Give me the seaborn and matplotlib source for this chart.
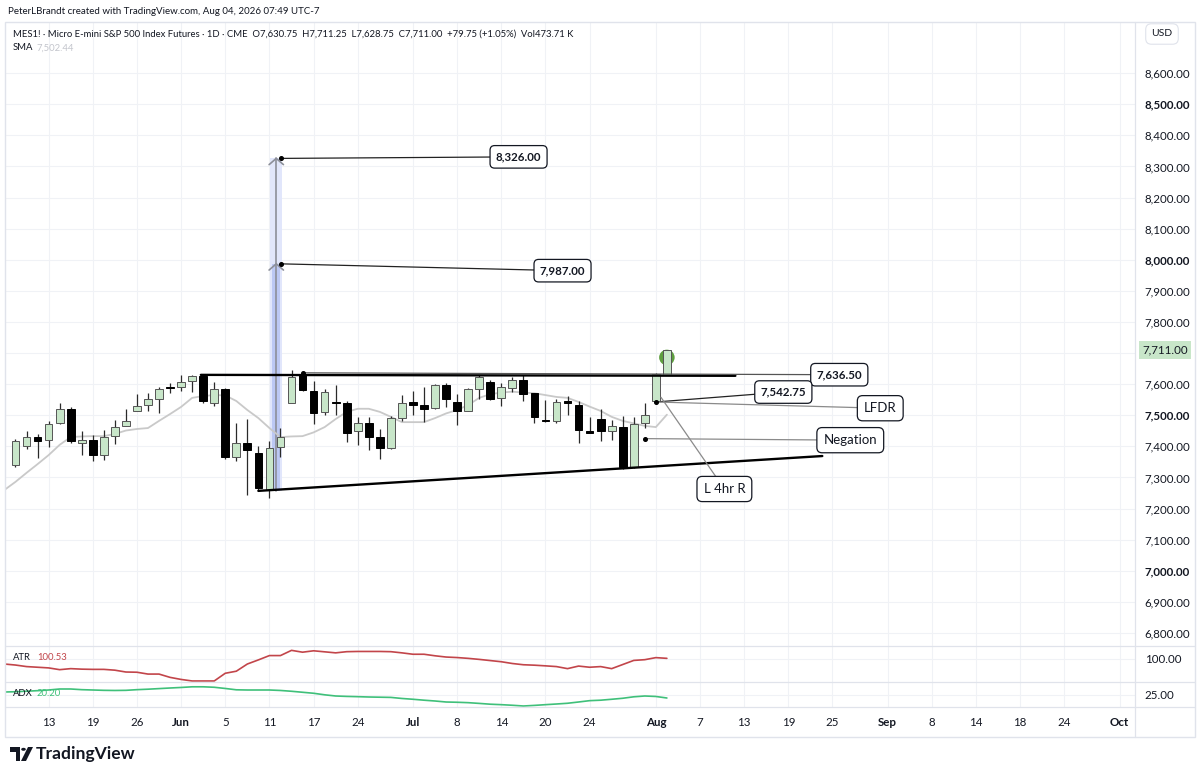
import numpy as np
import pandas as pd
import matplotlib
matplotlib.use("Agg")
import matplotlib.pyplot as plt
import matplotlib.transforms as mtrans
import seaborn as sns
from matplotlib.patches import Rectangle, Polygon, Circle
from matplotlib.lines import Line2D

sns.set_theme(style="white")
plt.rcParams['font.family'] = ['Lato', 'DejaVu Sans']

# ── DATA (MES1! daily) ───────────────────────────────────────
opens  = [7339, 7401, 7431, 7420, 7476, 7519, 7410, 7421, 7373, 7433,
          7466, 7515, 7532, 7553, 7589, 7592, 7609, 7626, 7541, 7586,
          7365, 7410, 7380, 7260, 7397, 7541, 7628, 7579, 7511, 7542,
          7540, 7449, 7476, 7429, 7395, 7491, 7543, 7532, 7523, 7596,
          7543, 7515, 7586, 7607, 7556, 7588, 7613, 7571, 7484, 7481,
          7545, 7534, 7450, 7487, 7450, 7463, 7333, 7476, 7547, 7630.75]
highs  = [7425, 7450, 7440, 7482, 7539, 7528, 7450, 7436, 7453, 7485,
          7521, 7568, 7571, 7592, 7603, 7629, 7630, 7631, 7607, 7588,
          7474, 7487, 7401, 7416, 7459, 7646, 7636.5, 7611, 7586, 7598,
          7546, 7495, 7494, 7455, 7498, 7566, 7577, 7592, 7601, 7603,
          7568, 7588, 7629, 7613, 7605, 7622, 7629, 7572, 7549, 7551,
          7562, 7547, 7494, 7521, 7485, 7498, 7495, 7539, 7635, 7711.25]
lows   = [7335, 7391, 7362, 7397, 7472, 7412, 7372, 7354, 7356, 7408,
          7466, 7515, 7515, 7507, 7571, 7579, 7575, 7540, 7530, 7358,
          7354, 7245, 7257, 7234, 7367, 7540, 7579, 7472, 7502, 7502,
          7414, 7404, 7388, 7358, 7392, 7481, 7502, 7478, 7520, 7528,
          7468, 7513, 7553, 7549, 7530, 7575, 7547, 7474, 7478, 7474,
          7501, 7411, 7442, 7418, 7421, 7328, 7330, 7459, 7542.75, 7628.75]
closes = [7418, 7431, 7418, 7472, 7519, 7416, 7421, 7371, 7431, 7463,
          7481, 7530, 7551, 7585, 7587, 7607, 7626, 7545, 7586, 7365,
          7410, 7388, 7266, 7395, 7431, 7622, 7581, 7508, 7575, 7540,
          7444, 7474, 7431, 7395, 7491, 7540, 7532, 7521, 7596, 7553,
          7513, 7584, 7624, 7551, 7590, 7613, 7568, 7494, 7482, 7543,
          7539, 7453, 7442, 7450, 7466, 7333, 7472, 7500, 7631.25, 7711]

# indicator series start one bar before the first visible candle
sma = [7260, 7286, 7315, 7343, 7372, 7405, 7430, 7432, 7433, 7433, 7440,
       7451, 7456, 7459, 7482, 7504, 7527, 7556, 7562, 7565, 7564, 7546,
       7517, 7491, 7459, 7430, 7432, 7433, 7445, 7462, 7488, 7511, 7521,
       7521, 7511, 7495, 7478, 7478, 7478, 7491, 7506, 7517, 7533, 7556,
       7568, 7573, 7576, 7573, 7571, 7565, 7559, 7556, 7543, 7528, 7514,
       7495, 7482, 7474, 7466, 7462, 7502]
atr = [92.8, 91.4, 89.3, 88.4, 87.5, 85.1, 86.5, 85.8, 85.5, 85.5, 84.4,
       81.9, 81.6, 79.1, 79.1, 74.6, 71.8, 69.7, 69.7, 69.7, 80.2, 83.0,
       92.8, 98.4, 104.3, 104.3, 111.4, 108.9, 110.8, 109.4, 108.0, 109.6,
       109.9, 109.9, 109.9, 109.6, 108.0, 106.1, 106.1, 104.0, 102.3, 101.6,
       100.5, 99.1, 97.5, 95.9, 93.5, 91.8, 91.2, 90.3, 89.3, 86.5, 90.0,
       88.4, 89.3, 86.5, 92.1, 97.7, 98.7, 101.5, 100.53]
adx = [29.2, 29.6, 30.4, 31.2, 32.2, 33.7, 33.7, 32.7, 32.2, 31.7, 31.5,
       31.7, 32.7, 33.4, 34.3, 35.2, 36.0, 37.0, 37.0, 36.3, 34.5, 32.5,
       32.2, 32.2, 32.2, 31.5, 30.3, 28.8, 27.3, 25.0, 23.2, 22.6, 22.2,
       21.7, 21.4, 21.1, 19.5, 18.3, 16.9, 15.7, 14.2, 13.8, 13.2, 12.1,
       10.9, 10.2, 9.3, 8.2, 9.1, 10.2, 11.2, 12.3, 14.2, 16.2, 16.9,
       18.3, 19.8, 22.0, 23.2, 22.5, 20.2]

# time axis (bar index of each label, first bar = May 8)
tick_idx = [3, 7, 11, 15, 19, 23, 27, 31, 36, 40, 44, 48, 52, 58,
            62, 66, 70, 74, 79, 83, 87, 91, 95, 100]
tick_lbl = ['13', '19', '26', 'Jun', '5', '11', '17', '24', 'Jul', '8',
            '14', '20', '24', 'Aug', '7', '13', '19', '25', 'Sep', '8',
            '14', '18', '24', 'Oct']
months = {'Jun', 'Jul', 'Aug', 'Sep', 'Oct'}
price_ticks = list(range(6800, 8601, 100))

# drawing levels
target_hi, target_lo = 8326.00, 7987.00
neck_level = 7636.50
lfdr_level = 7542.75
negation_level = 7425
circle_level = 7686

# ── FIGURE ───────────────────────────────────────────────────
W, H = 1200, 778
def fx(px): return px / W
def fy(py): return 1 - py / H
def bx(px): return (px - 14.5) / 11.05      # pixel -> bar index

TXT = '#131722'
GRID = '#f0f2f6'
BORDER = '#e0e3eb'

fig = plt.figure(figsize=(12, 7.78), dpi=100)
fig.patch.set_facecolor('white')
L, R = 6, 1135
ax = fig.add_axes([fx(L), fy(645), fx(R - L), (645 - 22) / H])
ax_atr = fig.add_axes([fx(L), fy(682), fx(R - L), (682 - 645) / H], sharex=ax)
ax_adx = fig.add_axes([fx(L), fy(707), fx(R - L), (707 - 682) / H], sharex=ax)

for a in (ax, ax_atr, ax_adx):
    a.set_facecolor('white')
    for s in a.spines.values():
        s.set_visible(False)
    a.grid(True, color=GRID, lw=0.8)
    a.set_axisbelow(True)
    a.yaxis.tick_right()
    a.tick_params(axis='y', length=0, pad=7, labelsize=8.3, labelcolor=TXT)
    a.tick_params(axis='x', length=0)

ax.set_xlim(-0.86, 101.4)
ax.set_ylim(6761.4, 8764.6)

# ── projection bar (behind the candles) ──
px0, px1 = bx(269.5), bx(281.5)
pxc = bx(275.5)
base = lows[22]
ax.add_patch(Rectangle((px0, base), px1 - px0, target_hi - base,
                       fc='#e1e6fb', ec='none', zorder=1.2))
ax.add_patch(Rectangle((bx(271.5), base), bx(279.5) - bx(271.5),
                       target_lo - base, fc='#bcc8f4', ec='none', zorder=1.3))
ax.plot([pxc, pxc], [base, target_hi], color='#8c8f99', lw=1.2, zorder=1.4)
for lvl in (target_lo, target_hi):
    ax.plot([pxc - 0.65, pxc, pxc + 0.65], [lvl - 20, lvl, lvl - 20],
            color='#8c8f99', lw=1.2, zorder=1.4)

# ── candles ──
n = len(closes)
xs = np.arange(n)
o, c = np.array(opens), np.array(closes)
up = c >= o
bottoms = np.minimum(o, c)
heights = np.maximum(np.abs(c - o), 2.5)
fills = np.where(up, '#c8e6c9', '#000000')
edges = np.where(up, '#555555', '#000000')

# highlight circle on the breakout bar (sits behind the body)
ax.scatter([n - 1], [circle_level], s=125, color='#5e9e3f', zorder=2.5,
           edgecolors='none')
ax.vlines(xs, lows, highs, color='#2a2a2a', lw=0.9, zorder=2)
ax.bar(xs, heights, bottom=bottoms, width=0.7, color=fills,
       edgecolor=edges, linewidth=0.7, zorder=3)

# SMA
sns.lineplot(x=np.arange(-1, n), y=sma, ax=ax, color='#c9c9c9', lw=1.3,
             zorder=1.5)

ax.set_yticks(price_ticks)
ax.set_yticklabels(['' if p == 7700 else f'{p:,.2f}' for p in price_ticks])
for t, p in zip(ax.get_yticklabels(), price_ticks):
    if p % 500 == 0:
        t.set_fontweight('bold')
ax.tick_params(axis='x', labelbottom=False)

# last price tag
btr = mtrans.blended_transform_factory(ax.transAxes, ax.transData)
ax.text(1.0 + 7 / (R - L), closes[-1], f'{closes[-1]:,.2f}', transform=btr,
        ha='left', va='center', fontsize=8.3, color=TXT, zorder=9, clip_on=False,
        bbox=dict(boxstyle='square,pad=0.3', fc='#c8e6c9', ec='none'))

# ── trend lines ──
ax.plot([bx(200), bx(735)], [highs[17] - 1, highs[17] - 4], color='black',
        lw=1.7, zorder=5)
ax.plot([22, bx(822)], [lows[22], 7369], color='black', lw=1.7, zorder=5)


def box(x, y, text, bold=True, size=8.3):
    ax.text(x, y, text, ha='center', va='center', fontsize=size,
            fontweight='bold' if bold else 'normal', color=TXT, zorder=8,
            bbox=dict(boxstyle='round,pad=0.5,rounding_size=0.4',
                      fc='white', ec=TXT, lw=0.9))


def leader(x0, y0, x1, y1, color='#222222', lw=0.9, dot=True):
    ax.plot([x0, x1], [y0, y1], color=color, lw=lw, zorder=6)
    if dot:
        ax.plot([x0], [y0], 'o', ms=2.6, color='black', zorder=7)


dot_x = bx(280)
leader(dot_x, target_hi, bx(518), target_hi + 5)
box(bx(518), target_hi + 5, f'{target_hi:,.2f}')
leader(dot_x, target_lo, bx(562), target_lo - 22)
box(bx(562), target_lo - 22, f'{target_lo:,.2f}')

leader(26, neck_level, bx(839), neck_level - 6, color='#555555')
box(bx(839), neck_level - 6, f'{neck_level:,.2f}')

leader(58, lfdr_level, bx(783), lfdr_level + 32)
box(bx(783), lfdr_level + 32, f'{lfdr_level:,.2f}')
leader(58, lfdr_level, bx(880), lfdr_level - 20, color='#8a8a8a', dot=False)
box(bx(880), lfdr_level - 20, 'LFDR', bold=False, size=9.5)

leader(57, negation_level, bx(850), negation_level - 5, color='#8a8a8a')
box(bx(850), negation_level - 5, 'Negation', bold=False, size=9.5)

leader(bx(660.5), 7558, bx(724), 7263, color='#8a8a8a', dot=False)
box(bx(724), 7263, 'L 4hr R', bold=False, size=9.5)

# ── ATR pane ──
sns.lineplot(x=np.arange(-1, n), y=atr, ax=ax_atr, color='#c2454a', lw=1.2)
ax_atr.set_ylim(68.3, 118.7)
ax_atr.set_yticks([100])
ax_atr.set_yticklabels(['100.00'])
ax_atr.tick_params(axis='x', labelbottom=False)

# ── ADX pane ──
sns.lineplot(x=np.arange(-1, n), y=adx, ax=ax_adx, color='#3fc07a', lw=1.2)
ax_adx.set_ylim(6.7, 44.2)
ax_adx.set_yticks([25])
ax_adx.set_yticklabels(['25.00'])
ax_adx.set_xticks(tick_idx)
ax_adx.set_xticklabels(tick_lbl)
ax_adx.tick_params(axis='x', pad=7, labelsize=8.3, labelcolor=TXT)
for t, lbl in zip(ax_adx.get_xticklabels(), tick_lbl):
    if lbl in months:
        t.set_fontweight('bold')
for a in (ax, ax_atr, ax_adx):
    a.set_xlabel('')
    a.set_ylabel('')
ax.set_xlim(-0.86, 101.4)

# ── frame & separators ──
fig.add_artist(Rectangle((fx(5), fy(737)), fx(1190), (737 - 22) / H,
                         transform=fig.transFigure, fill=False, ec=BORDER, lw=1))
for yy in (645.5, 682, 707):
    fig.add_artist(Line2D([fx(5), fx(1195)], [fy(yy), fy(yy)], color=BORDER,
                          lw=0.9, transform=fig.transFigure))
fig.add_artist(Line2D([fx(1135), fx(1135)], [fy(22), fy(737)], color=BORDER,
                      lw=0.9, transform=fig.transFigure))

# ── texts ──
fig.text(fx(8), fy(12), 'PeterLBrandt created with TradingView.com, Aug 04, 2026 07:49 UTC-7',
         fontsize=7.0, color=TXT, va='center')
fig.text(fx(13), fy(34),
         'MES1! · Micro E-mini S&P 500 Index Futures · 1D · CME  O7,630.75  H7,711.25  '
         'L7,628.75  C7,711.00  +79.75 (+1.05%)  Vol473.71 K',
         fontsize=6.8, color=TXT, va='center')
fig.text(fx(13), fy(48), 'SMA', fontsize=6.8, color=TXT, va='center')
fig.text(fx(36), fy(48), '7,502.44', fontsize=6.8, color='#c3c5cc', va='center')
fig.text(fx(13), fy(658), 'ATR', fontsize=6.8, color=TXT, va='center')
fig.text(fx(37), fy(658), f'{atr[-1]:.2f}', fontsize=6.8, color='#c2454a', va='center')
fig.text(fx(13), fy(693), 'ADX', fontsize=6.8, color=TXT, va='center')
fig.text(fx(37), fy(693), f'{adx[-1]:.2f}', fontsize=6.8, color='#3fc07a', va='center')
fig.text(fx(1162), fy(34), 'USD', fontsize=7.5, color=TXT, ha='center', va='center',
         bbox=dict(boxstyle='round,pad=0.55', fc='white', ec=BORDER, lw=0.8))

# TradingView logo
fig.add_artist(Polygon([[fx(10), fy(747)], [fx(20), fy(747)], [fx(20), fy(761)],
                        [fx(15.5), fy(761)], [fx(15.5), fy(751.5)], [fx(10), fy(751.5)]],
                       closed=True, fc='#131722', ec='none', transform=fig.transFigure))
fig.add_artist(Circle((fx(23.5), fy(749.3)), 2.3 / W, fc='#131722', ec='none',
                      transform=fig.transFigure))
fig.add_artist(Polygon([[fx(21), fy(761)], [fx(26), fy(761)], [fx(33), fy(747)],
                        [fx(28), fy(747)]], closed=True, fc='#131722', ec='none',
                       transform=fig.transFigure))
fig.text(fx(36), fy(754), 'TradingView', fontsize=12.6, fontweight='bold',
         color=TXT, va='center')

fig.savefig('out.png', dpi=100)
